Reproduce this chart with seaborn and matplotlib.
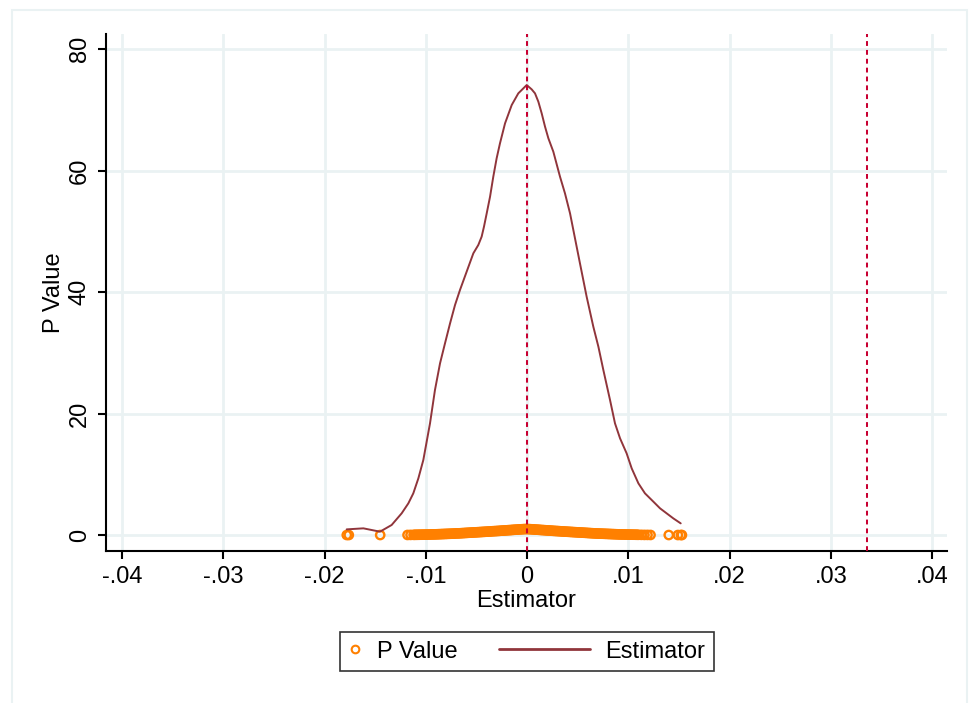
# Estimator density with p-values underneath (Stata-style look)

import numpy as np
import pandas as pd
import matplotlib
matplotlib.use("Agg")
import matplotlib.pyplot as plt
from matplotlib.lines import Line2D
from matplotlib.patches import Rectangle
from matplotlib.legend_handler import HandlerLine2D
import seaborn as sns

# Kernel density of the estimator
kde_x = [-0.01781, -0.01616, -0.01452, -0.01337, -0.01238, -0.01172, -0.01123, -0.01073,
         -0.01024, -0.00991, -0.00958, -0.00909, -0.00859, -0.00810, -0.00760, -0.00711,
         -0.00662, -0.00596, -0.00530, -0.00481, -0.00448, -0.00425, -0.00398, -0.00365,
         -0.00333, -0.00300, -0.00267, -0.00217, -0.00151, -0.00086, -0.00003, 0.00046,
         0.00079, 0.00112, 0.00145, 0.00178, 0.00211, 0.00260, 0.00326, 0.00375,
         0.00425, 0.00474, 0.00523, 0.00589, 0.00655, 0.00705, 0.00754, 0.00820,
         0.00869, 0.00919, 0.00984, 0.01034, 0.01100, 0.01165, 0.01248, 0.01314,
         0.01379, 0.01445, 0.01518]
kde_y = [0.93, 1.10, 0.55, 1.65, 3.57, 5.21, 6.86, 9.33,
         12.35, 15.36, 18.38, 23.87, 28.26, 31.55, 34.84, 37.86,
         40.33, 43.35, 46.37, 47.74, 49.11, 50.75, 52.95, 55.69,
         58.98, 62.00, 64.47, 67.76, 70.78, 72.70, 74.07, 73.36,
         72.70, 71.33, 69.41, 67.22, 65.30, 63.10, 58.98, 56.24,
         52.95, 48.83, 44.72, 39.23, 34.29, 31.00, 27.16, 22.22,
         18.38, 15.91, 13.44, 10.97, 8.51, 6.86, 5.49, 4.39,
         3.57, 2.74, 1.92]

# Estimator / p-value pairs (orange circles)
pv_est = [-0.0178, -0.0176, -0.0145,
          -0.0118, -0.0115, -0.0112, -0.0109, -0.0106, -0.0103, -0.0100, -0.0097, -0.0094, -0.0091,
          -0.0088, -0.0085, -0.0082, -0.0079, -0.0076, -0.0073, -0.0070, -0.0067, -0.0064, -0.0061,
          -0.0058, -0.0055, -0.0052, -0.0049, -0.0046, -0.0043, -0.0040, -0.0037, -0.0034, -0.0031,
          -0.0028, -0.0025, -0.0022, -0.0019, -0.0016, -0.0013, -0.0010, -0.0007, -0.0004, -0.0001,
          0.0002, 0.0005, 0.0008, 0.0011, 0.0014, 0.0017, 0.0020, 0.0023, 0.0026, 0.0029,
          0.0032, 0.0035, 0.0038, 0.0041, 0.0044, 0.0047, 0.0050, 0.0053, 0.0056, 0.0059,
          0.0062, 0.0065, 0.0068, 0.0071, 0.0074, 0.0077, 0.0080, 0.0083, 0.0086, 0.0089,
          0.0092, 0.0095, 0.0098, 0.0101, 0.0104, 0.0107, 0.0110, 0.0113, 0.0116, 0.0119, 0.0122,
          0.0140, 0.0149, 0.0152, 0.0153]
pv_val = [0.0, 0.0, 0.0,
          0.01, 0.02, 0.03, 0.04, 0.05, 0.06, 0.07, 0.08, 0.10, 0.11,
          0.13, 0.15, 0.17, 0.19, 0.21, 0.23, 0.26, 0.28, 0.31, 0.34,
          0.37, 0.40, 0.43, 0.46, 0.49, 0.52, 0.55, 0.58, 0.62, 0.65,
          0.68, 0.72, 0.75, 0.79, 0.82, 0.86, 0.89, 0.93, 0.96, 0.99,
          0.97, 0.94, 0.90, 0.87, 0.83, 0.80, 0.76, 0.73, 0.69, 0.66,
          0.63, 0.59, 0.56, 0.53, 0.50, 0.47, 0.44, 0.41, 0.38, 0.35,
          0.32, 0.29, 0.26, 0.24, 0.22, 0.20, 0.18, 0.16, 0.14, 0.12,
          0.10, 0.09, 0.08, 0.07, 0.06, 0.05, 0.04, 0.03, 0.02, 0.02, 0.01,
          0.0, 0.0, 0.0, 0.0]

# more draws packed in the dense middle of the band
pv_est_b = [-0.01105, -0.01075, -0.01045, -0.01015, -0.00985, -0.00955, -0.00925, -0.00895,
            -0.00865, -0.00835, -0.00805, -0.00775, -0.00745, -0.00715, -0.00685, -0.00655,
            -0.00625, -0.00595, -0.00565, -0.00535, -0.00505, -0.00475, -0.00445, -0.00415,
            -0.00385, -0.00355, -0.00325, -0.00295, -0.00265, -0.00235, -0.00205, -0.00175,
            -0.00145, -0.00115, -0.00085, -0.00055, -0.00025, 0.00005,
            0.00035, 0.00065, 0.00095, 0.00125, 0.00155, 0.00185, 0.00215, 0.00245,
            0.00275, 0.00305, 0.00335, 0.00365, 0.00395, 0.00425, 0.00455, 0.00485,
            0.00515, 0.00545, 0.00575, 0.00605, 0.00635, 0.00665, 0.00695, 0.00725,
            0.00755, 0.00785, 0.00815, 0.00845, 0.00875, 0.00905, 0.00935, 0.00965,
            0.00995, 0.01025, 0.01055, 0.01085]
pv_val_b = [0.035, 0.045, 0.055, 0.065, 0.075, 0.09, 0.105, 0.12,
            0.14, 0.16, 0.18, 0.20, 0.22, 0.245, 0.27, 0.295,
            0.325, 0.355, 0.385, 0.415, 0.445, 0.475, 0.505, 0.535,
            0.565, 0.60, 0.635, 0.665, 0.70, 0.735, 0.77, 0.805,
            0.84, 0.875, 0.91, 0.945, 0.975, 0.98,
            0.955, 0.92, 0.885, 0.85, 0.815, 0.78, 0.745, 0.71,
            0.675, 0.645, 0.61, 0.575, 0.545, 0.515, 0.485, 0.455,
            0.425, 0.395, 0.365, 0.335, 0.305, 0.275, 0.25, 0.23,
            0.21, 0.19, 0.17, 0.15, 0.13, 0.11, 0.095, 0.085,
            0.075, 0.065, 0.055, 0.045]

ref_lines = [0.0, 0.0336]
x_ticks = [-0.04, -0.03, -0.02, -0.01, 0.0, 0.01, 0.02, 0.03, 0.04]
x_labels = ["-.04", "-.03", "-.02", "-.01", "0", ".01", ".02", ".03", ".04"]
y_ticks = [0, 20, 40, 60, 80]

kde_df = pd.DataFrame({"est": kde_x, "dens": kde_y})
pv_df = pd.DataFrame({"est": pv_est + pv_est_b, "p": pv_val + pv_val_b})

# Colors
orange = "#FF8000"
maroon = "#90353B"
crimson = "#C80032"
grid_c = "#EAF2F3"

sns.set_style("white")
plt.rcParams["font.family"] = ["Liberation Sans", "DejaVu Sans"]
plt.rcParams["font.size"] = 17
for k in ["text.color", "axes.labelcolor", "xtick.color", "ytick.color"]:
    plt.rcParams[k] = "black"

fig = plt.figure(figsize=(9.73, 7.03), dpi=100)
ax = fig.add_axes([106 / 973, 152 / 703, 841 / 973, 517 / 703])

# outer graph-region frame
fig.patches.append(Rectangle((12 / 973, -0.01), 955 / 973, 693 / 703 + 0.01,
                             transform=fig.transFigure, fill=False,
                             ec=grid_c, lw=1.5, zorder=0))

sns.scatterplot(data=pv_df, x="est", y="p", ax=ax, marker="o", s=36,
                facecolor="none", edgecolor=orange, linewidth=1.7,
                legend=False, zorder=3)
sns.lineplot(data=kde_df, x="est", y="dens", ax=ax, color=maroon, lw=1.4,
             estimator=None, sort=False, legend=False, zorder=4,
             solid_joinstyle="round")

for xv in ref_lines:
    ax.axvline(xv, color=crimson, lw=1.45, dashes=(2.4, 2.0), zorder=5)

ax.set_xlim(-0.04158, 0.04148)
ax.set_ylim(-2.63, 82.47)
ax.set_xticks(x_ticks)
ax.set_xticklabels(x_labels)
ax.set_yticks(y_ticks)

ax.grid(True, color=grid_c, lw=2.0, zorder=0)
ax.set_axisbelow(True)
for s in ["top", "right"]:
    ax.spines[s].set_visible(False)
for s in ["left", "bottom"]:
    ax.spines[s].set_color("black")
    ax.spines[s].set_linewidth(1.5)

ax.tick_params(axis="both", direction="out", length=6, width=1.5,
               color="black", labelsize=17, pad=5, left=True, bottom=True)
for lab in ax.get_yticklabels():
    lab.set_rotation(90)
    lab.set_va("center")

ax.set_xlabel("Estimator", fontsize=17, labelpad=1)
ax.set_ylabel("P Value", fontsize=17, labelpad=3)


class LongLine(HandlerLine2D):
    # draw the line sample longer than the handle box, reaching to the left
    def get_xdata(self, legend, xdescent, ydescent, width, height, fontsize):
        xdata = np.array([width - 65.0, width]) - xdescent
        return xdata, xdata[-1:]


h_pv = Line2D([], [], ls="none", marker="o", ms=5.5, mfc="none", mec=orange, mew=1.5)
h_est = Line2D([], [], color=maroon, lw=2.0)
leg = fig.legend([h_pv, h_est], ["P Value", "Estimator"], ncol=2,
                 loc="center", bbox_to_anchor=(527 / 973, 1 - 651.5 / 703),
                 bbox_transform=fig.transFigure, fontsize=17,
                 handlelength=0.51, handletextpad=0.64, columnspacing=5.1,
                 borderpad=0.38, fancybox=False, framealpha=1,
                 edgecolor="#333333", handler_map={h_est: LongLine()})
leg.get_frame().set_linewidth(1.2)

fig.savefig("out.png", dpi=100)
